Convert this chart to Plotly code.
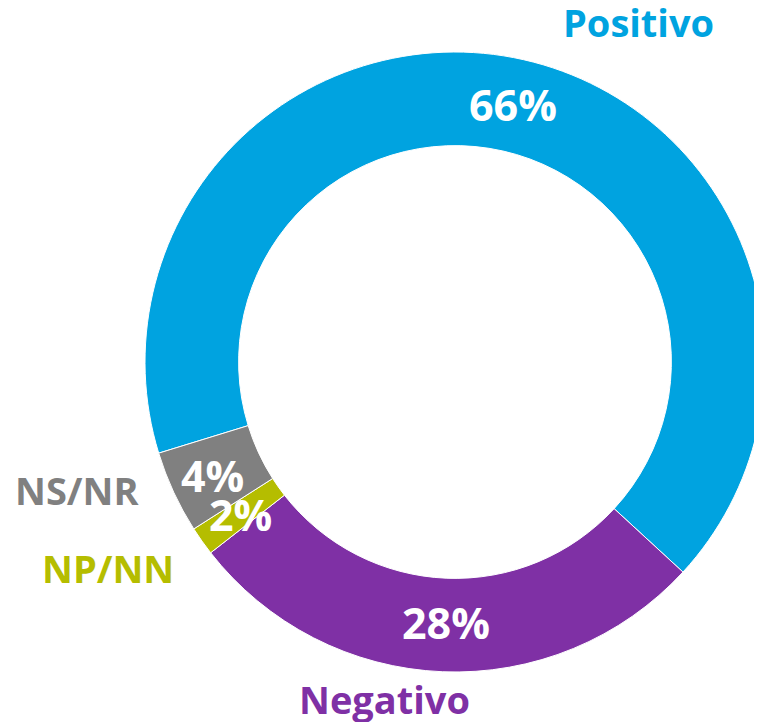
import plotly.graph_objects as go

categories = ["Positivo", "Negativo", "NP/NN", "NS/NR"]
values = [66.6, 27.6, 1.5, 4.3]
pct_labels = ["66%", "28%", "2%", "4%"]
colors = ["#00A3E0", "#7F30A5", "#B5BD00", "#808080"]

W, H = 762, 722
OFF = 8  # page body margin offset


def px(x, y):
    return (x - OFF) / W, 1 - (y - OFF) / H


fig = go.Figure(go.Pie(
    labels=categories,
    values=values,
    sort=False,
    direction="clockwise",
    rotation=252.9,
    hole=0.698,
    marker=dict(colors=colors, line=dict(color="white", width=1)),
    textinfo="none",
    hoverinfo="label+percent",
    showlegend=False,
    domain=dict(x=[(145 - OFF) / W, (765 - OFF) / W],
                y=[1 - (672 - OFF) / H, 1 - (52 - OFF) / H]),
))

FONT = "Open Sans"
pct_pos = {"66%": (513, 104), "28%": (446, 622), "2%": (240, 515), "4%": (212, 475)}
for t in pct_labels:
    x, y = px(*pct_pos[t])
    fig.add_annotation(x=x, y=y, xref="paper", yref="paper",
                       text=f"<b>{t}</b>", showarrow=False,
                       font=dict(family=FONT, size=43, color="white"),
                       xanchor="center", yanchor="middle")

cat_pos = {"Positivo": (638, 22), "Negativo": (384, 699), "NP/NN": (108, 568), "NS/NR": (77, 490)}
for c, col in zip(categories, colors):
    x, y = px(*cat_pos[c])
    fig.add_annotation(x=x, y=y, xref="paper", yref="paper",
                       text=f"<b>{c}</b>", showarrow=False,
                       font=dict(family=FONT, size=38, color=col),
                       xanchor="center", yanchor="middle")

fig.update_layout(width=W, height=H, margin=dict(l=0, r=0, t=0, b=0),
                  paper_bgcolor="white", plot_bgcolor="white")
fig.write_html("out.html")
